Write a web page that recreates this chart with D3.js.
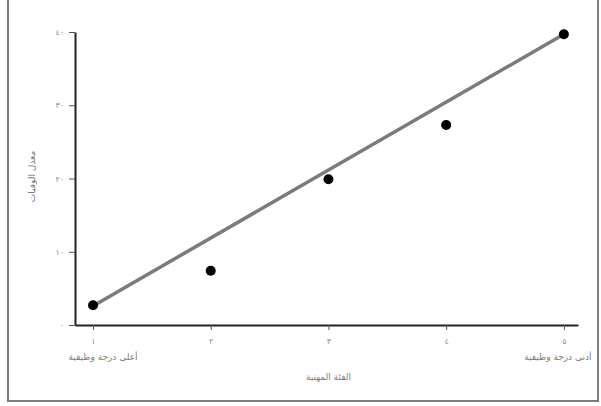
<!DOCTYPE html>
<html lang="ar">
<head>
<meta charset="utf-8">
<script src="https://cdn.jsdelivr.net/npm/d3@7"></script>
<style>
  body { margin: 0; background: #fff; }
  .axis text { font-family: "DejaVu Sans", sans-serif; font-size: 8px; fill: #8a8a8a; }
  .label { font-family: "DejaVu Sans", sans-serif; font-size: 9px; fill: #7a7a7a; }
</style>
</head>
<body>
<div id="chart"></div>
<script>
var width = 601, height = 406;
var margin = {top: 32, right: 23, bottom: 81, left: 75};
var graphWidth = width - margin.left - margin.right;
var graphHeight = height - margin.top - margin.bottom;

// occupational class 1..5 and death rate
var classes = [1, 2, 3, 4, 5];
var classTickLabels = ["١", "٢", "٣", "٤", "٥"];
var rates = [2.7, 7.4, 19.9, 27.3, 39.7];
var yTicks = [0, 10, 20, 30, 40];
var yTickLabels = ["٠", "١٠", "٢٠", "٣٠", "٤٠"];
var trendLine = [{c: 1, v: 2.6}, {c: 5, v: 39.7}];
var endLabels = ["أعلى درجة وظيفية", "أدنى درجة وظيفية"];

var root = d3.select("#chart").append("svg")
  .attr("width", width)
  .attr("height", height);

// frame
root.append("rect")
  .attr("x", 8).attr("y", -2)
  .attr("width", 590).attr("height", 403)
  .attr("fill", "none")
  .attr("stroke", "#7d7d7d")
  .attr("stroke-width", 2);

var svg = root.append("g")
  .attr("transform", "translate(" + margin.left + "," + margin.top + ")");

var x = d3.scaleLinear()
  .domain([0.847, 5.12])
  .range([0, graphWidth]);

var y = d3.scaleLinear()
  .domain([0, 40])
  .range([graphHeight, 0]);

// x axis
var xAxis = svg.append("g")
  .attr("class", "axis")
  .attr("transform", "translate(0," + graphHeight + ")")
  .call(d3.axisBottom(x)
    .tickValues(classes)
    .tickFormat((d, i) => classTickLabels[i])
    .tickSizeInner(5)
    .tickSizeOuter(0)
    .tickPadding(8));
xAxis.select(".domain").attr("stroke", "#222").attr("stroke-width", 2);
xAxis.selectAll(".tick line").attr("stroke", "#555");

// y axis
var yAxis = svg.append("g")
  .attr("class", "axis")
  .call(d3.axisLeft(y)
    .tickValues(yTicks)
    .tickFormat((d, i) => yTickLabels[i])
    .tickSizeInner(6)
    .tickSizeOuter(0)
    .tickPadding(5));
yAxis.select(".domain").attr("stroke", "#222").attr("stroke-width", 2);
yAxis.selectAll(".tick line").attr("stroke", "#555");

// end labels under class 1 and 5
svg.selectAll(".endlabel")
  .data([classes[0], classes[4]])
  .enter()
  .append("text")
  .attr("class", "label endlabel")
  .attr("x", (d, i) => x(d) + (i === 0 ? 10 : -6))
  .attr("y", graphHeight + 35)
  .style("text-anchor", "middle")
  .attr("direction", "rtl")
  .text((d, i) => endLabels[i]);

// axis titles
svg.append("text")
  .attr("class", "label")
  .attr("x", x(3))
  .attr("y", graphHeight + 55)
  .style("text-anchor", "middle")
  .attr("direction", "rtl")
  .text("الفئة المهنية");

svg.append("text")
  .attr("class", "label")
  .attr("transform", "rotate(-90)")
  .attr("x", -(y(20) - 2))
  .attr("y", -40)
  .style("text-anchor", "middle")
  .attr("direction", "rtl")
  .text("معدل الوفيات");

// trend line
svg.append("path")
  .datum(trendLine)
  .attr("fill", "none")
  .attr("stroke", "#7b7b7b")
  .attr("stroke-width", 3.5)
  .attr("d", d3.line().x(d => x(d.c)).y(d => y(d.v)));

// points
svg.selectAll(".circle")
  .data(classes)
  .enter()
  .append("circle")
  .attr("class", "circle")
  .attr("r", 5)
  .attr("fill", "#000")
  .attr("cx", d => x(d))
  .attr("cy", (d, i) => y(rates[i]));
</script>
</body>
</html>
